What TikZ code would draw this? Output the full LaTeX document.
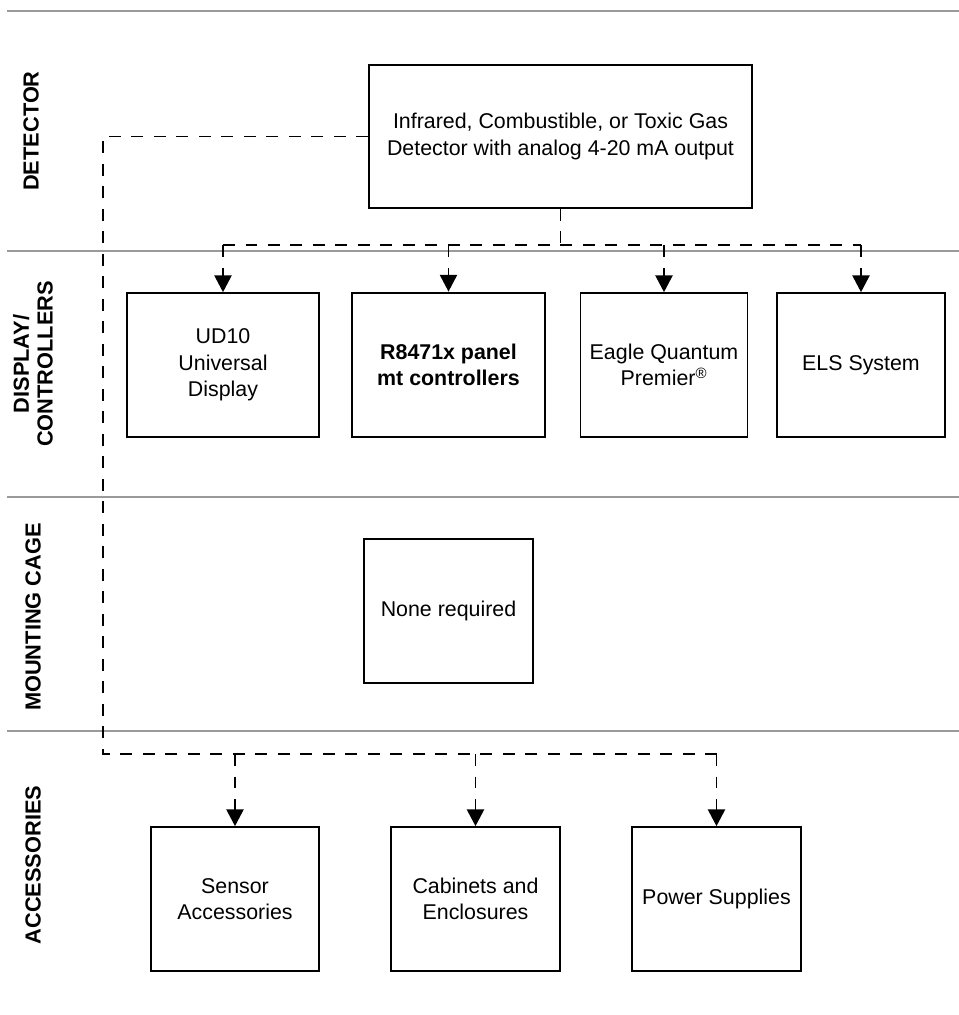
\documentclass[tikz,border=0pt]{standalone}
\usepackage{fontspec}
\setmainfont{Liberation Sans}
\usetikzlibrary{arrows.meta, positioning, calc}
\definecolor{RuleGray}{HTML}{9A9A9A}
\tikzset{
  unitbox/.style={
    rectangle, draw=black, line width=1.2pt,
    minimum height=3.6cm, align=center,
    font=\fontsize{15.2}{18.8}\selectfont, inner sep=4pt
  },
  mainunit/.style={
    unitbox, line width=2pt,
    font=\fontsize{15.2}{18.8}\selectfont\bfseries
  },
  rowlabel/.style={
    rotate=90, align=center,
    font=\fontsize{15.5}{17}\selectfont\bfseries
  },
  divider/.style={draw=RuleGray, line width=1pt},
  link/.style={dash pattern=on 8.5pt off 7.5pt, line width=1.3pt},
  linkarrow/.style={
    link, -{Triangle[length=0.42cm, width=0.43cm]}
  }
}

\begin{document}
\begin{tikzpicture}[x=0.025cm, y=-0.025cm]

\useasboundingbox (0,0) rectangle (959,1015);

% ── Row dividers ──────────────────────────────────────────────────────────────

\foreach \yy in {11, 251, 497, 731}
  \draw[divider] (7,\yy) -- (959,\yy);

% ── Row labels ────────────────────────────────────────────────────────────────

\node[rowlabel] (lblDet) at (31,131) {DETECTOR};
\node[rowlabel] (lblDisp) at (33,364) {DISPLAY/\\CONTROLLERS};
\node[rowlabel] (lblCage) at (33,617) {MOUNTING CAGE};
\node[rowlabel] (lblAcc) at (33,865) {ACCESSORIES};

% ── Detector ──────────────────────────────────────────────────────────────────

\node[unitbox, minimum width=9.575cm, minimum height=3.575cm] (det) at (560.5,136.5) {%
  Infrared, Combustible, or Toxic Gas\\
  Detector with analog 4-20 mA output
};

% ── Displays / controllers ────────────────────────────────────────────────────

\node[unitbox, minimum width=4.8cm] (ud10) at (223,365) {UD10\\Universal\\Display};
\node[mainunit, minimum width=4.825cm] (r8471) at (448.5,365) {R8471x panel\\mt controllers};
\node[unitbox, minimum width=4.175cm] (eqp) at (664,365) {Eagle Quantum\\Premier\textsuperscript{\textregistered}};
\node[unitbox, minimum width=4.2cm] (els) at (861,365) {ELS System};

% ── Mounting cage ─────────────────────────────────────────────────────────────

\node[unitbox, minimum width=4.225cm] (none) at (448.5,611) {None required};

% ── Accessories ───────────────────────────────────────────────────────────────

\node[unitbox, minimum width=4.2cm] (sens) at (235,899) {Sensor\\Accessories};
\node[unitbox, minimum width=4.225cm] (cab) at (475.5,899) {Cabinets and\\Enclosures};
\node[unitbox, minimum width=4.225cm] (pwr) at (716.5,899) {Power Supplies};

% ── Bus points ────────────────────────────────────────────────────────────────

\coordinate (busTop) at (560.5,245);
\coordinate (busLow) at (103,754);

% ── Detector to displays ──────────────────────────────────────────────────────

\draw[link] (det.south) -- (busTop);
\draw[link] (ud10.north |- busTop) -- (els.north |- busTop);
\foreach \n in {ud10, r8471, eqp, els}
  \draw[linkarrow] (\n.north |- busTop) -- (\n.north);

% ── Detector to accessories ───────────────────────────────────────────────────

\draw[link] (det.west) -| (busLow) -- (pwr.north |- busLow);
\foreach \n in {sens, cab, pwr}
  \draw[linkarrow] (\n.north |- busLow) -- (\n.north);

\end{tikzpicture}
\end{document}
